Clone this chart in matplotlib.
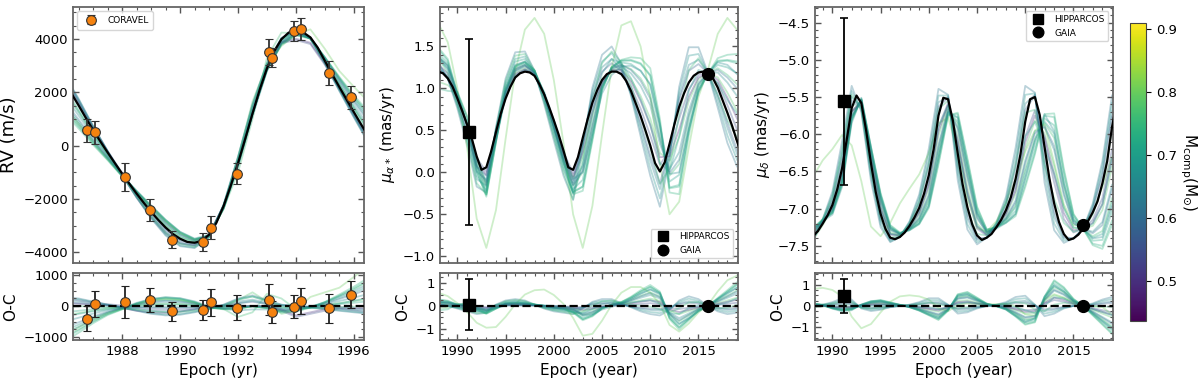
import matplotlib
matplotlib.use("Agg")
import matplotlib.pyplot as plt
import numpy as np
from matplotlib.ticker import MultipleLocator
from matplotlib import colors

# ---------------- data ----------------
# CORAVEL radial velocities
rv_epoch = [1986.77, 1987.06, 1988.08, 1988.97, 1989.72, 1990.79, 1991.07,
            1991.95, 1993.08, 1993.17, 1993.95, 1994.16, 1995.14, 1995.89]
rv_val = [574, 510, -1178, -2410, -3527, -3617, -3077,
          -1050, 3512, 3302, 4300, 4375, 2724, 1812]
rv_err = [420, 430, 520, 400, 310, 335, 430, 400, 505, 355, 370, 430, 460, 433]
rv_oc = [-402, 62, 144, 196, -165, -124, 124, -52, 216, -186, -21, 165, -72, 371]

# best fit RV curve, every 0.25 yr from 1986.0
rv_t = np.arange(1986.0, 1996.51, 0.25)
rv_fit = [2380, 1950, 1500, 1030, 580, 150, -260, -660, -1050, -1430,
          -1800, -2150, -2480, -2790, -3070, -3310, -3490, -3610, -3640, -3570,
          -3340, -2900, -2270, -1500, -660, 260, 1200, 2100, 2900, 3540,
          3990, 4240, 4310, 4250, 4060, 3680, 3180, 2680, 2200, 1730,
          1260, 800, 350]

# best fit proper motions, every 0.5 yr from 1988.0
pm_t = np.arange(1988.0, 2019.51, 0.5)
pma_fit = [1.20, 1.18, 1.12, 1.02, 0.88, 0.73, 0.57, 0.40, 0.19, 0.03,
           0.06, 0.25, 0.48, 0.70, 0.88, 1.02, 1.13, 1.18, 1.20, 1.19,
           1.15, 1.05, 0.93, 0.78, 0.62, 0.45, 0.26, 0.06, 0.03, 0.18,
           0.41, 0.63, 0.83, 0.98, 1.10, 1.17, 1.20, 1.20, 1.17, 1.09,
           0.97, 0.82, 0.67, 0.50, 0.32, 0.11, 0.01, 0.12, 0.34, 0.57,
           0.78, 0.94, 1.07, 1.15, 1.19, 1.20, 1.18, 1.12, 1.01, 0.86,
           0.71, 0.55, 0.37, 0.20]
pmd_fit = [-7.37, -7.30, -7.20, -7.09, -6.95, -6.74, -6.46, -6.06, -5.65, -5.48,
           -5.58, -5.95, -6.39, -6.78, -7.07, -7.27, -7.39, -7.41, -7.38, -7.32,
           -7.23, -7.12, -6.99, -6.80, -6.55, -6.20, -5.75, -5.51, -5.53, -5.82,
           -6.26, -6.67, -6.98, -7.21, -7.36, -7.42, -7.39, -7.34, -7.25, -7.15,
           -7.02, -6.85, -6.60, -6.27, -5.83, -5.53, -5.50, -5.74, -6.17, -6.59,
           -6.93, -7.18, -7.34, -7.42, -7.40, -7.35, -7.27, -7.17, -7.05, -6.90,
           -6.66, -6.36, -5.90, -5.57]

# Hipparcos / Gaia absolute astrometry
hip_epoch, gaia_epoch = 1991.25, 2016.0
pma_hip, pma_hip_err, pma_gaia = 0.48, 1.11, 1.17
pmd_hip, pmd_hip_err, pmd_gaia = -5.56, 1.12, -7.22
pma_hip_oc, pma_hip_oc_err, pma_gaia_oc = 0.06, 1.11, -0.01
pmd_hip_oc, pmd_hip_oc_err, pmd_gaia_oc = 0.48, 0.80, 0.0

# posterior draws: companion mass and residual from the best fit
draw_mass = [0.70, 0.66, 0.74, 0.78, 0.55, 0.62, 0.76, 0.72, 0.80, 0.50, 0.68, 0.64,
             0.69, 0.73, 0.58, 0.66, 0.75, 0.61]

# RV residuals of each draw, every 0.5 yr from 1986.0
draw_rv_oc = [
    [-800, -600, -384, -200, -72, 64, 160, 200, 176, 96, -32, -72, -64, 0, -48, -144, -120, -32, 96, 264, 440, 640],
    [-500, -375, -240, -125, -45, 40, 100, 125, 110, 60, -20, -45, -40, 0, -30, -90, -75, -20, 60, 165, 275, 400],
    [-1150, -862, -552, -288, -104, 92, 230, 288, 253, 138, -46, -104, -92, 0, -69, -207, -172, -46, 138, 380, 632, 920],
    [-300, -225, -144, -75, -27, 24, 60, 75, 66, 36, -12, -27, 200, 450, 150, -250, -150, -12, 36, 99, 165, 240],
    [250, 188, 120, 62, 22, -20, -50, -62, -55, -30, 10, 22, 20, 0, 15, -150, -350, -250, -150, -82, -138, -200],
    [300, 250, 150, 50, -50, -150, -250, -300, -280, -200, -100, 50, 250, 350, 200, 50, 0, -50, -100, -150, -200, -250],
    [-1000, -750, -480, -250, -90, 80, 200, 250, 220, 120, -40, -90, -350, -200, 400, 250, -100, -40, 120, 330, 550, 800],
    [-200, -150, -96, -50, -18, 16, 40, 50, 44, 24, -8, -18, -16, 0, -12, -36, -30, -8, 24, 66, 110, 160],
    [-900, -680, -430, -220, -80, 60, 180, 230, 200, 110, -40, -80, -70, 0, -60, -160, -130, 300, 450, 600, 950, 1300],
    [100, 75, 48, 25, -60, -150, -200, -220, -180, -100, 4, 9, 8, 0, 6, -100, -300, -200, -100, -33, -55, -80],
    [270, 225, 135, 45, -45, -135, -225, -270, -252, -180, -90, 45, 225, 315, 180, 45, 0, -45, -90, -135, -180, -225],
    [180, 150, 90, 30, -30, -90, -150, -180, -168, -120, -60, 30, 150, 210, 120, 30, 0, -30, -60, -90, -120, -150],
    [-350, -250, -165, -100, -70, -35, -25, -25, -30, -40, -70, -20, 85, 175, 70, -65, -75, -45, 10, 90, 175, 275],
    [-1050, -788, -504, -262, -94, 84, 210, 262, 231, 126, -42, -94, -84, 0, -63, -189, -158, -42, 126, 346, 578, 840],
    [120, 100, 60, 20, -20, -60, -100, -120, -112, -80, -40, 20, 100, 140, 80, 20, 0, -20, -40, -60, -80, -100],
    [-890, -675, -429, -215, -57, 109, 235, 290, 260, 156, -2, -87, -139, -105, -108, -159, -120, -17, 126, 309, 500, 715],
    [-30, 0, -9, -30, -72, -111, -165, -195, -186, -144, -102, 18, 201, 315, 162, -9, -45, -57, -54, -36, -15, 15],
    [-700, -525, -336, -175, -63, 56, 140, 175, 154, 84, -28, -63, -56, 0, -42, -126, -105, -28, 84, 231, 385, 560],
]

# mu_alpha residuals of each draw, yearly from 1988
draw_pma_oc = [
    [0.22, 0.18, 0.05, 0.00, -0.14, -0.27, -0.09, 0.09, 0.11, 0.09, 0.05, 0.00, -0.07, -0.11, -0.23, -0.50, -0.36, -0.09, 0.05, 0.14, 0.32, 0.54, 0.72, 0.50, -0.45, -0.81, -0.50, -0.18, 0.00, 0.27, 0.54, 0.81],
    [0.15, 0.12, 0.03, 0.00, -0.09, -0.18, -0.06, 0.06, 0.07, 0.06, 0.04, 0.00, -0.05, -0.07, -0.15, -0.33, -0.24, -0.06, 0.03, 0.09, 0.21, 0.36, 0.48, 0.33, -0.30, -0.54, -0.33, -0.12, 0.00, 0.18, 0.36, 0.54],
    [0.29, 0.23, 0.06, 0.00, -0.17, -0.35, -0.12, 0.12, 0.14, 0.12, 0.07, 0.00, -0.09, -0.14, -0.29, -0.63, -0.46, -0.12, 0.06, 0.17, 0.40, 0.69, 0.92, 0.63, -0.58, -1.04, -0.63, -0.23, 0.00, 0.35, 0.69, 1.04],
    [-0.12, -0.08, 0.06, 0.10, -0.05, -0.20, -0.08, 0.04, 0.05, 0.04, 0.02, 0.00, -0.03, -0.05, -0.10, -0.22, -0.16, -0.04, 0.02, 0.06, 0.14, 0.24, 0.32, 0.22, -0.20, -0.36, -0.22, -0.08, 0.00, 0.12, 0.24, 0.36],
    [0.04, 0.03, 0.01, 0.00, -0.02, -0.05, -0.02, 0.02, 0.02, 0.02, 0.01, 0.00, -0.01, -0.02, -0.04, -0.08, -0.06, -0.02, 0.01, 0.02, 0.05, 0.09, 0.12, 0.08, -0.08, -0.14, -0.08, -0.03, 0.00, 0.05, 0.09, 0.14],
    [0.12, 0.00, -0.12, -0.24, -0.36, -0.30, 0.06, 0.24, 0.30, 0.24, 0.06, -0.12, -0.24, -0.30, -0.36, -0.12, 0.18, 0.30, 0.30, 0.12, -0.06, -0.24, -0.36, -0.42, -0.18, 0.24, 0.42, 0.30, 0.00, -0.24, -0.36, -0.30],
    [0.19, 0.15, 0.04, 0.00, -0.11, -0.23, -0.08, 0.08, 0.09, 0.08, 0.05, 0.00, -0.06, -0.09, -0.19, -0.41, -0.30, -0.08, 0.04, 0.11, 0.26, 0.45, 0.60, 0.41, -0.38, -0.68, -0.41, -0.15, 0.00, 0.23, 0.45, 0.68],
    [0.27, 0.21, 0.04, -0.02, -0.18, -0.33, -0.12, 0.09, 0.13, 0.11, 0.06, 0.01, -0.08, -0.13, -0.27, -0.58, -0.42, -0.11, 0.05, 0.16, 0.36, 0.62, 0.83, 0.57, -0.52, -0.93, -0.57, -0.21, 0.00, 0.31, 0.62, 0.93],
    [0.58, 0.43, 0.12, -0.27, -0.74, -0.96, -0.93, -0.48, 0.07, 0.50, 0.69, 0.72, 0.48, 0.09, -0.53, -1.31, -1.23, -0.65, 0.05, 0.58, 0.83, 0.83, 0.58, 0.09, -0.84, -1.13, -0.77, -0.29, 0.05, 0.64, 1.13, 1.33],
    [0.08, 0.06, 0.02, 0.00, -0.05, -0.09, -0.03, 0.03, 0.04, 0.03, 0.02, 0.00, -0.02, -0.04, -0.08, -0.17, -0.12, -0.03, 0.02, 0.05, 0.11, 0.18, 0.24, 0.17, -0.15, -0.27, -0.17, -0.06, 0.00, 0.09, 0.18, 0.27],
    [0.09, 0.00, -0.09, -0.18, -0.27, -0.22, 0.04, 0.18, 0.22, 0.18, 0.04, -0.09, -0.18, -0.22, -0.27, -0.09, 0.14, 0.22, 0.22, 0.09, -0.04, -0.18, -0.27, -0.32, -0.14, 0.18, 0.32, 0.22, 0.00, -0.18, -0.27, -0.22],
    [0.06, 0.00, -0.06, -0.12, -0.18, -0.15, 0.03, 0.12, 0.15, 0.12, 0.03, -0.06, -0.12, -0.15, -0.18, -0.06, 0.09, 0.15, 0.15, 0.06, -0.03, -0.12, -0.18, -0.21, -0.09, 0.12, 0.21, 0.15, 0.00, -0.12, -0.18, -0.15],
    [0.18, 0.10, -0.03, -0.10, -0.23, -0.28, -0.03, 0.15, 0.19, 0.15, 0.06, -0.05, -0.14, -0.19, -0.28, -0.33, -0.13, 0.08, 0.15, 0.13, 0.15, 0.20, 0.25, 0.10, -0.33, -0.35, -0.10, 0.03, 0.00, 0.05, 0.15, 0.33],
    [-0.20, -0.15, 0.08, 0.10, -0.10, -0.32, -0.11, 0.11, 0.13, 0.11, 0.06, 0.00, -0.08, -0.13, -0.26, -0.58, -0.42, -0.11, 0.05, 0.16, 0.37, 0.63, 0.84, 0.58, -0.53, -0.95, -0.58, -0.21, 0.00, 0.32, 0.63, 0.95],
    [0.04, 0.00, -0.04, -0.08, -0.12, -0.10, 0.02, 0.08, 0.10, 0.08, 0.02, -0.04, -0.08, -0.10, -0.12, -0.04, 0.06, 0.10, 0.10, 0.04, -0.02, -0.08, -0.12, -0.14, -0.06, 0.08, 0.14, 0.10, 0.00, -0.08, -0.12, -0.10],
    [0.17, 0.16, 0.07, 0.06, -0.03, -0.17, -0.10, 0.02, 0.02, 0.02, 0.03, 0.03, 0.00, -0.02, -0.11, -0.41, -0.37, -0.16, -0.04, 0.09, 0.30, 0.54, 0.73, 0.55, -0.36, -0.78, -0.55, -0.24, 0.00, 0.30, 0.57, 0.80],
    [0.17, 0.06, -0.08, -0.18, -0.32, -0.32, 0.02, 0.21, 0.26, 0.21, 0.06, -0.09, -0.20, -0.26, -0.35, -0.26, 0.02, 0.20, 0.24, 0.14, 0.06, 0.00, -0.03, -0.15, -0.29, -0.09, 0.15, 0.17, 0.00, -0.09, -0.09, 0.05],
    [0.18, 0.14, 0.04, 0.00, -0.11, -0.21, -0.07, 0.07, 0.08, 0.07, 0.04, 0.00, -0.06, -0.08, -0.18, -0.39, -0.28, -0.07, 0.04, 0.11, 0.25, 0.42, 0.56, 0.39, -0.35, -0.63, -0.39, -0.14, 0.00, 0.21, 0.42, 0.63],
]

# mu_delta residuals of each draw, yearly from 1988
draw_pmd_oc = [
    [0.09, 0.04, -0.09, -0.17, -0.13, 0.04, 0.17, 0.21, 0.13, 0.04, -0.04, -0.17, -0.34, -0.51, -0.17, 0.43, 0.51, 0.30, 0.09, 0.00, -0.13, -0.38, -0.68, -0.60, 0.34, 0.94, 0.68, 0.26, 0.00, -0.34, -0.68, -1.02],
    [0.07, 0.03, -0.07, -0.13, -0.10, 0.03, 0.13, 0.16, 0.10, 0.03, -0.03, -0.13, -0.26, -0.39, -0.13, 0.33, 0.39, 0.23, 0.07, 0.00, -0.10, -0.29, -0.52, -0.46, 0.26, 0.72, 0.52, 0.20, 0.00, -0.26, -0.52, -0.78],
    [0.11, 0.06, -0.11, -0.22, -0.17, 0.06, 0.22, 0.28, 0.17, 0.06, -0.06, -0.22, -0.44, -0.66, -0.22, 0.55, 0.66, 0.39, 0.11, 0.00, -0.17, -0.50, -0.88, -0.77, 0.44, 1.21, 0.88, 0.33, 0.00, -0.44, -0.88, -1.32],
    [-0.05, -0.02, -0.04, -0.06, -0.05, 0.03, 0.10, 0.12, 0.07, 0.02, -0.02, -0.09, -0.18, -0.27, -0.09, 0.23, 0.27, 0.16, 0.05, 0.00, -0.07, -0.20, -0.36, -0.32, 0.18, 0.50, 0.36, 0.14, 0.00, -0.18, -0.36, -0.54],
    [0.03, 0.01, -0.03, -0.05, -0.04, 0.01, 0.05, 0.06, 0.04, 0.01, -0.01, -0.05, -0.10, -0.15, -0.05, 0.13, 0.15, 0.09, 0.03, 0.00, -0.04, -0.11, -0.20, -0.18, 0.10, 0.28, 0.20, 0.08, 0.00, -0.10, -0.20, -0.30],
    [-0.06, 0.06, 0.18, 0.36, 0.30, -0.12, -0.24, -0.18, -0.06, 0.00, 0.06, 0.18, 0.36, 0.36, 0.06, -0.36, -0.30, -0.12, 0.00, 0.06, 0.18, 0.42, 0.48, 0.06, -0.48, -0.36, -0.12, 0.00, 0.00, 0.12, 0.30, 0.42],
    [0.08, 0.04, -0.08, -0.16, -0.12, 0.04, 0.16, 0.20, 0.12, 0.04, -0.04, -0.16, -0.32, -0.48, -0.16, 0.40, 0.48, 0.28, 0.08, 0.00, -0.12, -0.36, -0.64, -0.56, 0.32, 0.88, 0.64, 0.24, 0.00, -0.32, -0.64, -0.96],
    [0.10, 0.05, -0.10, -0.19, -0.14, 0.05, 0.19, 0.24, 0.14, 0.05, -0.05, -0.19, -0.38, -0.57, -0.19, 0.48, 0.57, 0.33, 0.10, 0.00, -0.14, -0.43, -0.76, -0.67, 0.38, 1.05, 0.76, 0.29, 0.00, -0.38, -0.76, -1.14],
    [0.80, 0.85, 0.75, 0.45, -0.50, -1.05, -0.85, -0.30, 0.20, 0.45, 0.50, 0.45, 0.30, -0.10, -0.25, 0.05, 0.12, 0.10, 0.08, 0.08, 0.10, 0.00, -0.40, -0.45, 0.30, 0.55, 0.40, 0.18, 0.05, 0.00, -0.05, -0.40],
    [0.04, 0.02, -0.04, -0.07, -0.05, 0.02, 0.07, 0.09, 0.05, 0.02, -0.02, -0.07, -0.14, -0.21, -0.07, 0.18, 0.21, 0.12, 0.04, 0.00, -0.05, -0.16, -0.28, -0.25, 0.14, 0.39, 0.28, 0.11, 0.00, -0.14, -0.28, -0.42],
    [-0.05, 0.05, 0.14, 0.27, 0.23, -0.09, -0.18, -0.14, -0.05, 0.00, 0.05, 0.14, 0.27, 0.27, 0.05, -0.27, -0.23, -0.09, 0.00, 0.05, 0.14, 0.32, 0.36, 0.05, -0.36, -0.27, -0.09, 0.00, 0.00, 0.09, 0.23, 0.32],
    [-0.03, 0.03, 0.09, 0.18, 0.15, -0.06, -0.12, -0.09, -0.03, 0.00, 0.03, 0.09, 0.18, 0.18, 0.03, -0.18, -0.15, -0.06, 0.00, 0.03, 0.09, 0.21, 0.24, 0.03, -0.24, -0.18, -0.06, 0.00, 0.00, 0.06, 0.15, 0.21],
    [0.03, 0.05, 0.03, 0.05, 0.05, -0.03, 0.00, 0.05, 0.05, 0.03, 0.00, -0.03, -0.05, -0.15, -0.08, 0.10, 0.18, 0.13, 0.05, 0.03, 0.00, -0.05, -0.20, -0.33, 0.00, 0.40, 0.35, 0.15, 0.00, -0.15, -0.28, -0.43],
    [0.11, 0.05, -0.11, -0.21, -0.16, 0.05, 0.21, 0.26, 0.16, 0.05, -0.05, -0.21, -0.42, -0.63, -0.21, 0.53, 0.63, 0.37, 0.11, 0.00, -0.16, -0.47, -0.84, -0.74, 0.42, 1.16, 0.84, 0.32, 0.00, -0.42, -0.84, -1.26],
    [-0.02, 0.02, 0.06, 0.12, 0.10, -0.04, -0.08, -0.06, -0.02, 0.00, 0.02, 0.06, 0.12, 0.12, 0.02, -0.12, -0.10, -0.04, 0.00, 0.02, 0.06, 0.14, 0.16, 0.02, -0.16, -0.12, -0.04, 0.00, 0.00, 0.04, 0.10, 0.14],
    [0.10, 0.03, -0.13, -0.25, -0.20, 0.07, 0.22, 0.25, 0.14, 0.04, -0.06, -0.21, -0.41, -0.57, -0.18, 0.49, 0.56, 0.31, 0.08, -0.02, -0.17, -0.47, -0.76, -0.58, 0.44, 0.97, 0.67, 0.24, 0.00, -0.35, -0.72, -1.07],
    [-0.02, 0.06, 0.11, 0.21, 0.18, -0.08, -0.12, -0.06, 0.00, 0.02, 0.03, 0.08, 0.15, 0.09, -0.02, -0.12, -0.05, 0.02, 0.03, 0.05, 0.09, 0.18, 0.12, -0.17, -0.24, 0.06, 0.15, 0.09, 0.00, -0.03, -0.02, -0.05],
    [0.07, 0.04, -0.07, -0.14, -0.11, 0.04, 0.14, 0.18, 0.11, 0.04, -0.04, -0.14, -0.28, -0.42, -0.14, 0.35, 0.42, 0.25, 0.07, 0.00, -0.11, -0.32, -0.56, -0.49, 0.28, 0.77, 0.56, 0.21, 0.00, -0.28, -0.56, -0.84],
]

# ---------------- figure ----------------
fig = plt.figure(figsize=(12, 3.81), dpi=100)
norm = colors.Normalize(vmin=0.436, vmax=0.91)
cmap = plt.get_cmap("viridis")

lefts = [0.0608, 0.3667, 0.6792]
widths = [0.2425, 0.2483, 0.2483]
top_axes = [fig.add_axes([l, 0.3097, w, 0.672]) for l, w in zip(lefts, widths)]
bot_axes = [fig.add_axes([l, 0.1076, w, 0.176]) for l, w in zip(lefts, widths)]


def style(ax):
    ax.tick_params(which="both", direction="in", top=True, right=True,
                   color="#555555", labelsize=9.5)
    ax.tick_params(which="major", length=4.5, width=1)
    ax.tick_params(which="minor", length=2.3, width=0.8)
    for s in ax.spines.values():
        s.set_color("#666666")
        s.set_linewidth(1.3)


draw_kw = dict(lw=1.3, alpha=0.32, zorder=1)
rv_t_draw = rv_t[::2]
pm_t_draw = pm_t[::2]
rv_fit_draw = np.array(rv_fit)[::2]
pma_fit_draw = np.array(pma_fit)[::2]
pmd_fit_draw = np.array(pmd_fit)[::2]

orange = "#f5820f"

# ---- RV ----
ax, axr = top_axes[0], bot_axes[0]
for m, oc in zip(draw_mass, draw_rv_oc):
    c = cmap(norm(m))
    ax.plot(rv_t_draw, rv_fit_draw + np.array(oc), color=c, **draw_kw)
    axr.plot(rv_t_draw, oc, color=c, **draw_kw)
ax.plot(rv_t, rv_fit, color="black", lw=1.6, zorder=3)
ax.errorbar(rv_epoch, rv_val, yerr=rv_err, fmt="o", ms=7, mfc=orange,
            mec="#333333", mew=0.8, ecolor="#333333", elinewidth=1.3,
            capsize=3, capthick=1.2, zorder=5, label="CORAVEL")
axr.axhline(0, color="black", ls="--", lw=1.6, zorder=3)
axr.errorbar(rv_epoch, rv_oc, yerr=rv_err, fmt="o", ms=7, mfc=orange,
             mec="#333333", mew=0.8, ecolor="#222222", elinewidth=1.3,
             capsize=3, capthick=1.2, zorder=5)
ax.set_xlim(1986.3, 1996.35)
axr.set_xlim(1986.3, 1996.35)
ax.set_ylim(-4400, 5200)
axr.set_ylim(-1100, 1080)
ax.set_ylabel("RV (m/s)", fontsize=13)
axr.set_ylabel("O-C", fontsize=11)
axr.set_xlabel("Epoch (yr)", fontsize=11)
ax.legend(loc="upper left", fontsize=6.5, frameon=True, handletextpad=0.8,
          borderpad=0.5)
for a in (ax, axr):
    a.xaxis.set_major_locator(MultipleLocator(2))
    a.xaxis.set_minor_locator(MultipleLocator(0.5))
ax.yaxis.set_major_locator(MultipleLocator(2000))
ax.yaxis.set_minor_locator(MultipleLocator(500))
axr.yaxis.set_major_locator(MultipleLocator(1000))
axr.yaxis.set_minor_locator(MultipleLocator(250))

# ---- proper motions ----
panels = [
    (top_axes[1], bot_axes[1], pma_fit, pma_fit_draw, draw_pma_oc,
     pma_hip, pma_hip_err, pma_gaia, pma_hip_oc, pma_hip_oc_err, pma_gaia_oc,
     (-1.08, 1.97), (-1.5, 1.45), r"$\mu_{\alpha*}$ (mas/yr)", "lower right"),
    (top_axes[2], bot_axes[2], pmd_fit, pmd_fit_draw, draw_pmd_oc,
     pmd_hip, pmd_hip_err, pmd_gaia, pmd_hip_oc, pmd_hip_oc_err, pmd_gaia_oc,
     (-7.73, -4.29), (-1.6, 1.55), r"$\mu_{\delta}$ (mas/yr)", "upper right"),
]
for (ax, axr, fit, fit_draw, ocs, hip, hip_err, gaia, hip_oc, hip_oc_err,
     gaia_oc, ylim, ylim_r, ylabel, loc) in panels:
    for m, oc in zip(draw_mass, ocs):
        c = cmap(norm(m))
        ax.plot(pm_t_draw, fit_draw + np.array(oc), color=c, **draw_kw)
        axr.plot(pm_t_draw, oc, color=c, **draw_kw)
    ax.plot(pm_t, fit, color="black", lw=1.6, zorder=3)
    ax.errorbar([hip_epoch], [hip], yerr=[hip_err], fmt="none",
                ecolor="black", elinewidth=1.3, capsize=3, capthick=1.2,
                zorder=4)
    h_hip, = ax.plot([hip_epoch], [hip], "s", ms=8, color="black", zorder=5,
                     label="HIPPARCOS")
    h_gaia, = ax.plot([gaia_epoch], [gaia], "o", ms=8.5, color="black",
                      zorder=5, label="GAIA")
    axr.axhline(0, color="black", ls="--", lw=1.6, zorder=3)
    axr.errorbar([hip_epoch], [hip_oc], yerr=[hip_oc_err], fmt="s", ms=8,
                 color="black", elinewidth=1.3, capsize=3, capthick=1.2,
                 zorder=5)
    axr.plot([gaia_epoch], [gaia_oc], "o", ms=8.5, color="black", zorder=5)
    for a in (ax, axr):
        a.set_xlim(1988.2, 2019.1)
        a.xaxis.set_major_locator(MultipleLocator(5))
        a.xaxis.set_minor_locator(MultipleLocator(1))
    ax.set_ylim(*ylim)
    axr.set_ylim(*ylim_r)
    ax.yaxis.set_major_locator(MultipleLocator(0.5))
    ax.yaxis.set_minor_locator(MultipleLocator(0.1))
    axr.yaxis.set_major_locator(MultipleLocator(1))
    axr.yaxis.set_minor_locator(MultipleLocator(0.25))
    ax.set_ylabel(ylabel, fontsize=11)
    axr.set_ylabel("O-C", fontsize=11)
    axr.set_xlabel("Epoch (year)", fontsize=11)
    ax.legend(handles=[h_hip, h_gaia], loc=loc, fontsize=6.5, frameon=True,
              markerscale=0.9)

for a in top_axes + bot_axes:
    style(a)
for a in top_axes:
    a.tick_params(labelbottom=False)

# ---- colorbar ----
cax = fig.add_axes([0.9417, 0.1575, 0.0133, 0.782])
sm = plt.cm.ScalarMappable(norm=norm, cmap=cmap)
cb = fig.colorbar(sm, cax=cax)
cb.set_ticks([0.5, 0.6, 0.7, 0.8, 0.9])
cb.ax.tick_params(labelsize=9.5, length=3.5)
cb.outline.set_edgecolor("#444444")
cb.set_label(r"M$_{\rm comp}$(M$_{\odot}$)", rotation=270, labelpad=16,
             fontsize=11)

fig.savefig("out.png", dpi=100)
